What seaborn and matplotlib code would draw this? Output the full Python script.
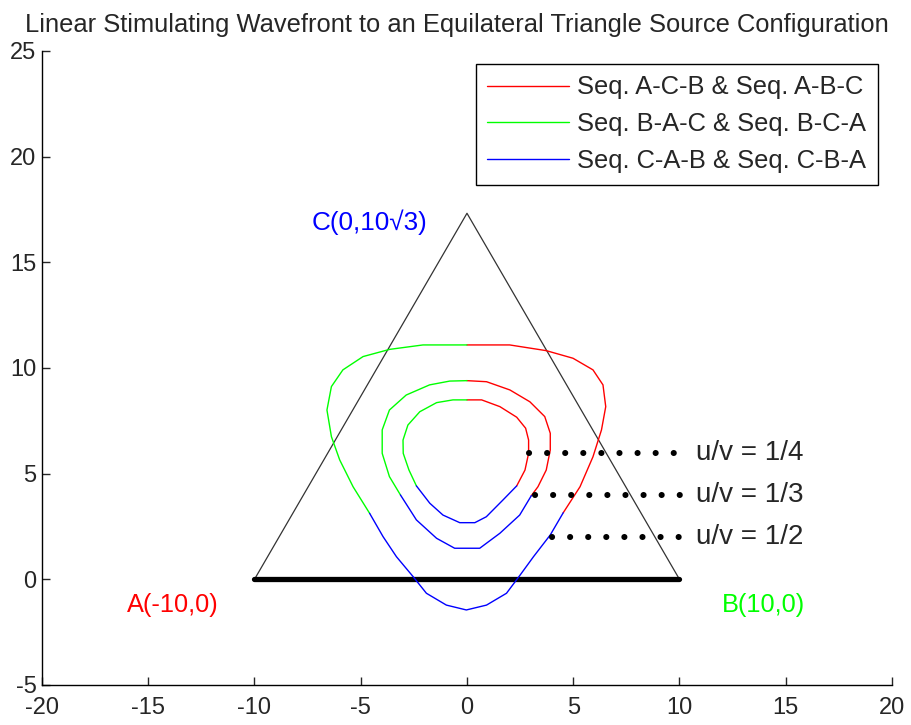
import matplotlib
matplotlib.use("Agg")
import matplotlib.pyplot as plt
import seaborn as sns
import pandas as pd

# Source points of the equilateral triangle
source_names = ["A(-10,0)", "B(10,0)", "C(0,10\u221a3)"]
source_x = [-10.0, 10.0, 0.0]
source_y = [0.0, 0.0, 17.32]

seq_labels = ["Seq. A-C-B & Seq. A-B-C",
              "Seq. B-A-C & Seq. B-C-A",
              "Seq. C-A-B & Seq. C-B-A"]
ratio_labels = ["u/v = 1/4", "u/v = 1/3", "u/v = 1/2"]

# Wavefront for u/v = 1/4, split by first-activated sequence
q_red = [(0.00, 8.49), (0.69, 8.49), (1.55, 8.17), (2.34, 7.67), (2.76, 7.15),
         (2.90, 6.59), (2.90, 5.96), (2.73, 5.17), (2.34, 4.42)]
q_blue = [(2.34, 4.42), (1.69, 3.75), (0.91, 2.96), (0.37, 2.68), (-0.34, 2.68),
          (-1.13, 3.04), (-1.75, 3.60), (-2.38, 4.42)]
q_green = [(-2.38, 4.42), (-2.73, 5.17), (-3.00, 5.96), (-3.01, 6.59), (-2.78, 7.30),
           (-2.22, 7.93), (-1.43, 8.36), (-0.66, 8.49), (0.00, 8.49)]

# Wavefront for u/v = 1/3
t_red = [(0.00, 9.40), (0.92, 9.35), (2.02, 8.96), (2.96, 8.40), (3.66, 7.70),
         (3.92, 6.91), (3.92, 6.12), (3.73, 5.17), (3.34, 4.38), (3.03, 3.96)]
t_blue = [(3.03, 3.96), (2.48, 3.04), (1.55, 2.18), (0.60, 1.47), (-0.58, 1.47),
          (-1.43, 1.94), (-2.38, 2.81), (-3.13, 3.99)]
t_green = [(-3.13, 3.99), (-3.65, 4.86), (-3.99, 5.96), (-3.99, 7.07), (-3.65, 8.01),
           (-2.86, 8.72), (-1.76, 9.20), (-0.81, 9.38), (0.00, 9.40)]

# Wavefront for u/v = 1/2
h_red = [(0.00, 11.09), (2.01, 11.09), (3.73, 10.82), (4.99, 10.46), (5.93, 9.91),
         (6.40, 9.20), (6.53, 8.17), (6.33, 7.07), (5.93, 5.80), (5.32, 4.38), (4.53, 3.15)]
h_blue = [(4.53, 3.15), (3.92, 2.10), (3.13, 1.07), (2.50, 0.20), (1.86, -0.66),
          (0.92, -1.22), (-0.03, -1.45), (-0.97, -1.22), (-1.91, -0.66), (-2.53, 0.12),
          (-3.32, 1.07), (-3.95, 2.02), (-4.58, 3.12)]
h_green = [(-4.58, 3.12), (-5.36, 4.38), (-5.99, 5.65), (-6.38, 6.75), (-6.59, 8.01),
           (-6.38, 9.12), (-5.84, 9.91), (-4.89, 10.54), (-3.64, 10.88), (-2.07, 11.09),
           (0.00, 11.09)]

# Leader rows from each wavefront to its ratio label
leader_y = [6.0, 4.0, 2.0]
leader_x0 = [2.90, 3.20, 4.00]
leader_x1 = [10.4, 10.5, 10.5]

sns.set_style("ticks")
plt.rcParams["font.family"] = ["Liberation Sans", "DejaVu Sans"]
plt.rcParams["axes.unicode_minus"] = False

fig = plt.figure(figsize=(9.11, 7.25), dpi=100)
ax = fig.add_axes([0.0461, 0.0552, 0.9330, 0.8745])

def draw(points, color, label=None):
    df = pd.DataFrame(points, columns=["x", "y"])
    sns.lineplot(data=df, x="x", y="y", sort=False, estimator=None, color=color,
                 linewidth=1.0, ax=ax, label=label)

# Triangle outline and the thick A-B base
tri = pd.DataFrame({"x": [source_x[0], source_x[2], source_x[1]],
                    "y": [source_y[0], source_y[2], source_y[1]]})
sns.lineplot(data=tri, x="x", y="y", sort=False, estimator=None, color="#333333",
             linewidth=0.9, ax=ax)
base = pd.DataFrame({"x": source_x[:2], "y": source_y[:2]})
sns.lineplot(data=base, x="x", y="y", sort=False, estimator=None, color="black",
             linewidth=3.8, ax=ax)

colors = {"red": "#ff0000", "green": "#00ff00", "blue": "#0000ff"}
draw(q_red, colors["red"], seq_labels[0])
draw(q_green, colors["green"], seq_labels[1])
draw(q_blue, colors["blue"], seq_labels[2])
for seg, c in [(t_red, "red"), (t_green, "green"), (t_blue, "blue"),
               (h_red, "red"), (h_green, "green"), (h_blue, "blue")]:
    draw(seg, colors[c])

for y, x0, x1, lab in zip(leader_y, leader_x0, leader_x1, ratio_labels):
    ax.plot([x0, x1], [y, y], color="black", linewidth=4.4,
            linestyle=(0, (0.01, 2.95)), dash_capstyle="round")
    ax.text(10.8, y, lab, fontsize=20, va="center", ha="left")

ax.text(-16.0, -1.2, source_names[0], color="#ff0000", fontsize=18.3, va="center")
ax.text(12.0, -1.2, source_names[1], color="#00ff00", fontsize=18.3, va="center")
ax.text(-7.3, 16.9, source_names[2], color="#0000ff", fontsize=18.8, va="center")

ax.set_xlim(-20, 20)
ax.set_ylim(-5, 25)
ax.set_xticks(range(-20, 21, 5))
ax.set_yticks(range(-5, 26, 5))
ax.tick_params(direction="in", length=6, width=1, labelsize=17)
ax.tick_params(axis="x", pad=9)
ax.tick_params(axis="y", pad=4)
ax.set_xlabel("")
ax.set_ylabel("")
for side in ["top", "right"]:
    ax.spines[side].set_visible(False)
for side in ["left", "bottom"]:
    ax.spines[side].set_linewidth(1.0)
    ax.spines[side].set_color("black")

ax.set_title("Linear Stimulating Wavefront to an Equilateral Triangle Source Configuration",
             fontsize=18.4, pad=14, x=0.488)

leg = ax.legend(loc="upper right", bbox_to_anchor=(0.9835, 0.9795), fontsize=18.4,
                frameon=True, fancybox=False, framealpha=1, edgecolor="black",
                handlelength=3.2, labelspacing=0.5, borderpad=0.45,
                handletextpad=0.32, borderaxespad=0)
leg.get_frame().set_linewidth(1.0)

fig.savefig("out.png", dpi=100)
